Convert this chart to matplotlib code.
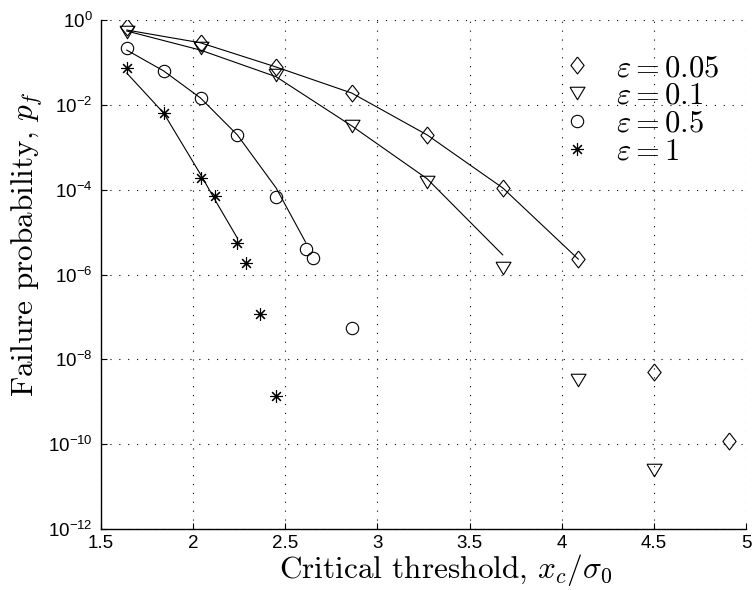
import matplotlib

matplotlib.use("Agg")
import matplotlib.pyplot as plt
from matplotlib.path import Path
from matplotlib.ticker import FixedLocator, NullLocator

plt.rcParams["font.family"] = ["Liberation Sans", "DejaVu Sans"]
plt.rcParams["mathtext.fontset"] = "cm"

# simulated failure probabilities (markers)
x_005 = [1.64, 2.04, 2.45, 2.86, 3.27, 3.68, 4.09, 4.50, 4.91]
pf_005 = [0.68, 0.29, 7.8e-2, 1.9e-2, 1.95e-3, 1.1e-4, 2.3e-6, 5.0e-9, 1.2e-10]
x_01 = [1.64, 2.04, 2.45, 2.86, 3.27, 3.68, 4.09, 4.50]
pf_01 = [0.52, 0.22, 5.0e-2, 3.2e-3, 1.5e-4, 1.4e-6, 3.2e-9, 2.5e-11]
x_05 = [1.64, 1.84, 2.04, 2.24, 2.45, 2.61, 2.65, 2.86]
pf_05 = [0.22, 6.3e-2, 1.45e-2, 1.95e-3, 6.8e-5, 4.0e-6, 2.5e-6, 5.5e-8]
x_1 = [1.64, 1.84, 2.04, 2.12, 2.24, 2.285, 2.365, 2.45]
pf_1 = [7.4e-2, 6.4e-3, 1.9e-4, 7.1e-5, 5.5e-6, 1.9e-6, 1.2e-7, 1.35e-9]

# analytical curves (lines)
fx_005 = [1.64, 2.04, 2.45, 2.86, 3.27, 3.68, 4.09]
fp_005 = [0.58, 0.29, 7.8e-2, 1.9e-2, 1.95e-3, 1.1e-4, 2.3e-6]
fx_01 = [1.64, 2.04, 2.45, 2.86, 3.27, 3.68]
fp_01 = [0.55, 0.195, 4.6e-2, 3.2e-3, 1.8e-4, 2.9e-6]
fx_05 = [1.64, 1.84, 2.04, 2.24, 2.45, 2.61]
fp_05 = [0.195, 6.3e-2, 1.45e-2, 1.95e-3, 1.1e-4, 5.8e-6]
fx_1 = [1.64, 1.84, 2.04, 2.12, 2.24]
fp_1 = [5.6e-2, 6.4e-3, 2.3e-4, 5.6e-5, 7.2e-6]

labels = [r"$\varepsilon = 0.05$", r"$\varepsilon = 0.1$",
          r"$\varepsilon = 0.5$", r"$\varepsilon = 1$"]

# MATLAB-like marker shapes
diamond = Path([(0, 1), (0.78, 0), (0, -1), (-0.78, 0), (0, 1)])
tri_down = Path([(-0.6, 0.5), (0.6, 0.5), (0, -0.5), (-0.6, 0.5)])

fig = plt.figure(figsize=(7.52, 5.90), dpi=100)
ax = fig.add_axes([101 / 752, 1 - 529 / 590, 645 / 752, 509 / 590])

lw = 0.8
for fx, fp in [(fx_005, fp_005), (fx_01, fp_01), (fx_05, fp_05), (fx_1, fp_1)]:
    ax.plot(fx, fp, color="black", lw=lw, zorder=2)

mk = dict(ls="none", mfc="none", mec="black", mew=lw, zorder=3)
ax.plot(x_005, pf_005, marker=diamond, ms=12.2, label=labels[0], **mk)
ax.plot(x_01, pf_01, marker=tri_down, ms=10.8, label=labels[1], **mk)
ax.plot(x_05, pf_05, marker="o", ms=8.9, label=labels[2], **mk)
ax.plot(x_1, pf_1, marker=(8, 2, 0), ms=9, label=labels[3], **mk)

ax.set_yscale("log")
ax.set_xlim(1.5, 5)
ax.set_ylim(1e-12, 1)
ax.xaxis.set_major_locator(FixedLocator([1.5, 2, 2.5, 3, 3.5, 4, 4.5, 5]))
ax.set_xticklabels(["1.5", "2", "2.5", "3", "3.5", "4", "4.5", "5"])
ax.yaxis.set_major_locator(FixedLocator([10.0 ** k for k in range(-12, 1, 2)]))
ax.yaxis.set_minor_locator(NullLocator())
ax.tick_params(direction="in", length=4, width=0.8, labelsize=13.5, pad=6)
ax.tick_params(axis="x", pad=4)
for s in ["top", "right"]:
    ax.spines[s].set_visible(False)
for s in ["left", "bottom"]:
    ax.spines[s].set_linewidth(1.0)
ax.grid(True, color="black", lw=0.8, ls=(0, (1, 7)))

ax.set_xlabel(r"Critical threshold, $x_c/\sigma_0$", fontfamily="cmr10",
              fontsize=22.5, va="center")
ax.set_ylabel(r"Failure probability, $p_f$", fontfamily="cmr10",
              fontsize=22.5, va="center")
ax.xaxis.set_label_coords(0.535, -0.081)
ax.yaxis.set_label_coords(-0.114, 0.56)

leg = ax.legend(loc="upper left", bbox_to_anchor=(0.715, 0.935), frameon=False,
                fontsize=22, handlelength=1.0, handletextpad=0.75,
                labelspacing=-0.07, borderpad=0, borderaxespad=0)

fig.savefig("out.png", dpi=100)
